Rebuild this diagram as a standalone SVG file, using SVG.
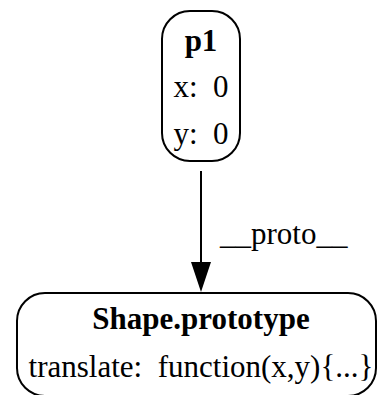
<svg xmlns="http://www.w3.org/2000/svg" width="377" height="395" viewBox="0 0 377 395">
<style>
.n{fill:#fff;stroke:#000;stroke-width:2}
.t{font-family:"Liberation Serif",serif;font-size:31px;fill:#000}
.b{font-weight:bold}
.e{stroke:#000;stroke-width:2;fill:none}
</style>
<rect width="377" height="395" fill="#fff"/>
<g id="p1">
<rect class="n" x="162" y="11" width="78" height="150" rx="28" ry="28"/>
<text class="t b" x="201" y="51" text-anchor="middle">p1</text>
<text class="t" x="201" y="97" text-anchor="middle" xml:space="preserve">x:  0</text>
<text class="t" x="201" y="144" text-anchor="middle" xml:space="preserve">y:  0</text>
</g>
<g id="shape-prototype">
<rect class="n" x="17" y="293" width="359" height="103" rx="28" ry="28"/>
<text class="t b" x="201" y="329" text-anchor="middle">Shape.prototype</text>
<text class="t" x="201" y="377" text-anchor="middle" xml:space="preserve">translate:  function(x,y){...}</text>
</g>
<g id="edges">
<path class="e" d="M201,171V262"/>
<path d="M191,262L201,292L211,262z" fill="#000"/>
<text class="t" x="220" y="244">__proto__</text>
</g>
</svg>
